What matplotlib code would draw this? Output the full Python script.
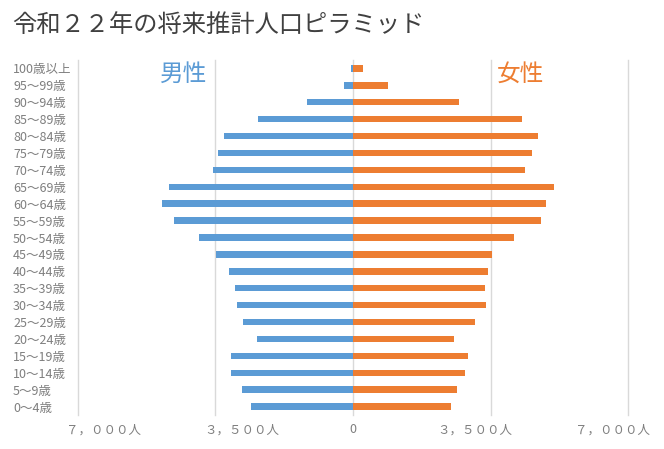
import matplotlib
matplotlib.use("Agg")
import matplotlib.pyplot as plt
from matplotlib.transforms import ScaledTranslation

plt.rcParams['font.family'] = ['Noto Sans CJK JP', 'DejaVu Sans']

categories = ["0～4歳", "5～9歳", "10～14歳", "15～19歳", "20～24歳", "25～29歳",
              "30～34歳", "35～39歳", "40～44歳", "45～49歳", "50～54歳", "55～59歳",
              "60～64歳", "65～69歳", "70～74歳", "75～79歳", "80～84歳", "85～89歳",
              "90～94歳", "95～99歳", "100歳以上"]
male = [2595, 2825, 3100, 3100, 2445, 2800, 2950, 3000, 3155, 3485, 3915, 4550,
        4850, 4675, 3560, 3430, 3280, 2418, 1175, 236, 60]
female = [2505, 2655, 2860, 2935, 2580, 3115, 3390, 3370, 3445, 3545, 4100, 4790,
          4915, 5120, 4380, 4560, 4710, 4305, 2700, 880, 245]
xtick_values = [-7000, -3500, 0, 3500, 7000]
xtick_labels = ["７，０００人", "３，５００人", "0", "３，５００人", "７，０００人"]
title = "令和２２年の将来推計人口ピラミッド"

BLUE = "#5b9bd5"
ORANGE = "#ed7d31"
GRID = "#d9d9d9"
TXT = "#7f7f7f"

W, H = 664, 449
L, R, T, B = 78, 628, 60, 415
fig = plt.figure(figsize=(W / 100, H / 100), dpi=100)
ax = fig.add_axes([L / W, 1 - B / H, (R - L) / W, (B - T) / H])

y = list(range(len(categories)))
ax.barh(y, [-v for v in male], height=0.38, color=BLUE, zorder=3)
ax.barh(y, female, height=0.38, color=ORANGE, zorder=3)

ax.set_xlim(-7000, 7000)
ax.set_ylim(-0.5, len(categories) - 0.5)

for s in ax.spines.values():
    s.set_visible(False)

ax.set_xticks(xtick_values)
ax.set_xticklabels(xtick_labels, fontsize=9, color=TXT)
ax.tick_params(axis='x', length=0, pad=6)
offsets = [26, 26, 0, -16, -16]
for lab, dx in zip(ax.get_xticklabels(), offsets):
    lab.set_transform(lab.get_transform() + ScaledTranslation(dx / 100, 0, fig.dpi_scale_trans))

ax.set_yticks(y)
ax.set_yticklabels(categories, fontsize=9, color=TXT)
ax.tick_params(axis='y', length=0, pad=(L - 13) * 0.72)
for lab in ax.get_yticklabels():
    lab.set_horizontalalignment('left')

ax.grid(axis='x', color=GRID, linewidth=1, zorder=0)
ax.grid(axis='y', visible=False)
for gl in ax.get_xgridlines():
    gl.set_clip_on(False)

ax.text((184 - L) / (R - L), 0.96, "男性", transform=ax.transAxes, fontsize=17, color=BLUE,
        ha='center', va='center')
ax.text((520 - L) / (R - L), 0.96, "女性", transform=ax.transAxes, fontsize=17, color=ORANGE,
        ha='center', va='center')

fig.text(12 / W, 1 - 25 / H, title, fontsize=17.5, color="#404040", ha='left', va='center')

fig.savefig("out.png", dpi=100)
